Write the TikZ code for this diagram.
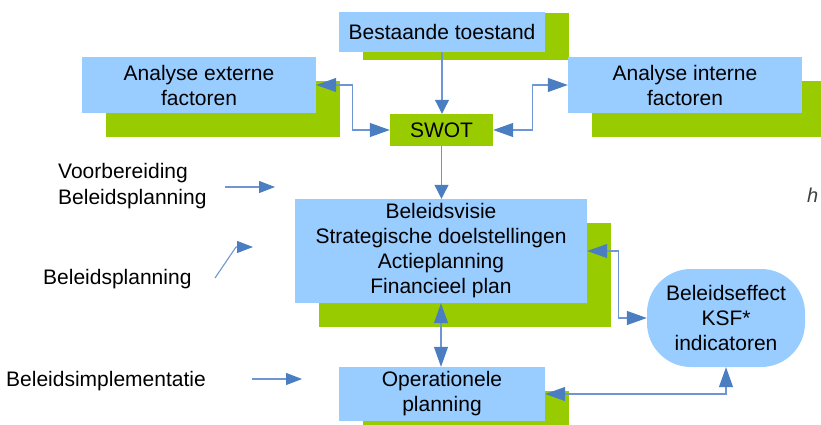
\documentclass[tikz,border=0pt]{standalone}
\usepackage{fontspec}
\setmainfont{Liberation Sans}
\usepackage{tikz}
\usetikzlibrary{arrows.meta}
\usetikzlibrary{positioning}
\usetikzlibrary{backgrounds}
\definecolor{boxblue}{RGB}{153,204,255}
\definecolor{boxgreen}{RGB}{153,204,0}
\definecolor{tipblue}{RGB}{74,126,193}
\definecolor{shaftblue}{RGB}{110,150,212}
\tikzstyle{every node}+=[inner sep=0pt]
\tikzstyle{block} = [rectangle, fill=boxblue, font=\fontsize{21}{25}\selectfont, align=center]
\tikzstyle{swotblock} = [rectangle, fill=boxgreen, font=\fontsize{21}{25}\selectfont, minimum width=103pt, minimum height=32pt]
\tikzstyle{roundblock} = [block, rounded corners=44pt]
\tikzstyle{phase} = [font=\fontsize{21}{26}\selectfont, align=left, anchor=west]
\tikzstyle{line} = [draw=shaftblue, line width=1.1pt, -{Triangle[length=14pt, width=14pt, color=tipblue, fill=tipblue]}]
\tikzstyle{phaseline} = [line, -{Triangle[length=16pt, width=12pt, color=tipblue, fill=tipblue]}]
\tikzstyle{biline} = [line, {Triangle[length=20pt, width=14pt, color=tipblue, fill=tipblue]}-{Triangle[length=20pt, width=14pt, color=tipblue, fill=tipblue]}]

\begin{document}
\begin{tikzpicture}[x=1pt, y=-1pt]
  \useasboundingbox (0,0) rectangle (821,425);
  % Place nodes
  \node [block, minimum width=206pt, minimum height=40pt] (toestand) at (442,32) {Bestaande toestand};
  \node [block, minimum width=234pt, minimum height=56pt] (extern) at (199,85) {Analyse externe\\factoren};
  \node [block, minimum width=234pt, minimum height=56pt] (intern) at (685,85) {Analyse interne\\factoren};
  \node [swotblock] (swot) at (441.5,130) {SWOT};
  \node [block, minimum width=292pt, minimum height=104pt] (visie) at (441,251) {Beleidsvisie\\Strategische doelstellingen\\Actieplanning\\Financieel plan};
  \node [block, minimum width=206pt, minimum height=54pt] (operat) at (442,394) {Operationele\\planning};
  \node [roundblock, minimum width=158pt, minimum height=98pt] (effect) at (726,318) {Beleidseffect\\KSF*\\indicatoren};
  % Phase labels
  \node [phase] (voorb) at (58,186) {Voorbereiding\\Beleidsplanning};
  \node [phase] (planning) at (43,279) {Beleidsplanning};
  \node [phase] (implem) at (6,381) {Beleidsimplementatie};
  \node [phase, font=\fontsize{20}{24}\selectfont\itshape, text=darkgray] (cut) at (807,195) {h};
  % Green backings
  \begin{scope}[on background layer]
    \clip (0,0) rectangle (821,425);
    \fill [boxgreen] ([shift={(24,1)}]toestand.north west) rectangle ([shift={(24,8)}]toestand.south east);
    \foreach \n in {extern, intern, visie, operat}
      \fill [boxgreen] ([shift={(24,24)}]\n.north west) rectangle ([shift={(24,24)}]\n.south east);
  \end{scope}
  % Draw edges
  \path [line] (toestand.south) -- (toestand.south |- swot.north);
  \path [biline] (extern.east) -- ++(36,0) |- (swot.west);
  \path [biline] (swot.east) -- ++(39,0) |- (intern.west);
  \path [line] (swot.south) -- (swot.south |- visie.north);
  \path [biline] (visie.south) -- (visie.south |- operat.north);
  \path [biline] (visie.east) -- ++(31,0) |- (effect.west);
  \path [biline] (operat.east) -| (effect.south);
  % Phase arrows
  \coordinate (vbtail) at (225,187);
  \coordinate (vbhead) at (275,187);
  \coordinate (bptail) at (215,278);
  \coordinate (bpbend) at (236,247);
  \coordinate (bphead) at (253,247);
  \coordinate (bitail) at (252,379);
  \coordinate (bihead) at (302,379);
  \path [phaseline] (vbtail) -- (vbhead);
  \path [phaseline] (bptail) -- (bpbend) -- (bphead);
  \path [phaseline] (bitail) -- (bihead);
\end{tikzpicture}
\end{document}
